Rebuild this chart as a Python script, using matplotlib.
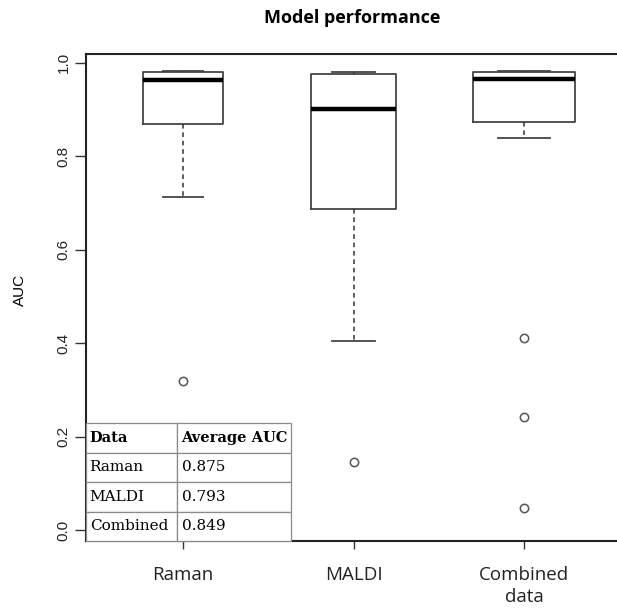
import numpy as np
import matplotlib
matplotlib.use('Agg')
import matplotlib.pyplot as plt

# summary stats
groups = ['Raman', 'MALDI', 'Combined\ndata']
q1 = [0.869, 0.687, 0.874]
med = [0.964, 0.901, 0.966]
q3 = [0.981, 0.976, 0.981]
whislo = [0.713, 0.405, 0.839]
whishi = [0.983, 0.981, 0.983]
outliers = [[0.32], [0.145], [0.41, 0.242, 0.047]]

# inset table
tab_header = ['Data', 'Average AUC']
tab_names = ['Raman', 'MALDI', 'Combined']
tab_auc = ['0.875', '0.793', '0.849']

fig = plt.figure(figsize=(6.17, 6.15), dpi=100)
ax = fig.add_axes([86/617, 1-541/615, 540/617, 487/615])

stats = []
for i in range(len(groups)):
    stats.append(dict(med=med[i], q1=q1[i], q3=q3[i], whislo=whislo[i],
                      whishi=whishi[i], fliers=outliers[i], label=groups[i]))

widths = [0.47, 0.5, 0.6]
ax.bxp(stats, positions=[1, 2, 3], widths=widths, showfliers=True,
       boxprops=dict(color='#444444', lw=1.3),
       medianprops=dict(color='black', lw=3.2, solid_capstyle='butt'),
       whiskerprops=dict(color='#333333', lw=1.1, ls=(0, (3, 2.5))),
       capprops=dict(color='#444444', lw=1.3),
       capwidths=[w/2 for w in widths],
       flierprops=dict(marker='o', markerfacecolor='none', markeredgecolor='#555555',
                       markersize=6, markeredgewidth=1.1))

# right edge sits just outside the picture, as in the reference
ax.set_xlim(0.431, 0.431 + 540/170.5)
ax.set_ylim(-0.0236, 1.019)
ax.set_yticks([0.0, 0.2, 0.4, 0.6, 0.8, 1.0])
ax.set_yticklabels(['0.0', '0.2', '0.4', '0.6', '0.8', '1.0'],
                   rotation=90, va='center', fontsize=11, family='Liberation Sans',
                   color='#222222')
ax.tick_params(axis='y', length=8, width=1, pad=3, color='#333333')
ax.tick_params(axis='x', length=6, width=1, pad=12, color='#333333')
ax.set_xticklabels(groups, fontsize=13.5, family='Open Sans', color='#222222',
                   linespacing=1.3)
for s in ax.spines.values():
    s.set_linewidth(1.5)
    s.set_color('#222222')

fig.text(20/617, 1-290/615, 'AUC', rotation=90, ha='center', va='center',
         fontsize=11, family='Liberation Sans')
fig.text(352/617, 1-18/615, 'Model performance', ha='center', va='center',
         fontsize=13, fontweight='bold', family='Open Sans')

cells = [[n, a] for n, a in zip(tab_names, tab_auc)]
tbl = ax.table(cellText=cells, colLabels=tab_header, cellLoc='left', colLoc='left',
               colWidths=[91/205, 114/205], bbox=[0, 0, 205/540, 118/487])
tbl.auto_set_font_size(False)
for (r, c), cell in tbl.get_celld().items():
    cell.set_edgecolor('#8a8a8a')
    cell.set_linewidth(0.9)
    cell.PAD = 0.04
    cell.get_text().set_fontsize(11)
    cell.get_text().set_family('DejaVu Serif')
    if r == 0:
        cell.get_text().set_fontweight('bold')
        cell.get_text().set_fontsize(10.5)
tbl.set_zorder(3)

fig.savefig('out.png', dpi=100, facecolor='white')
